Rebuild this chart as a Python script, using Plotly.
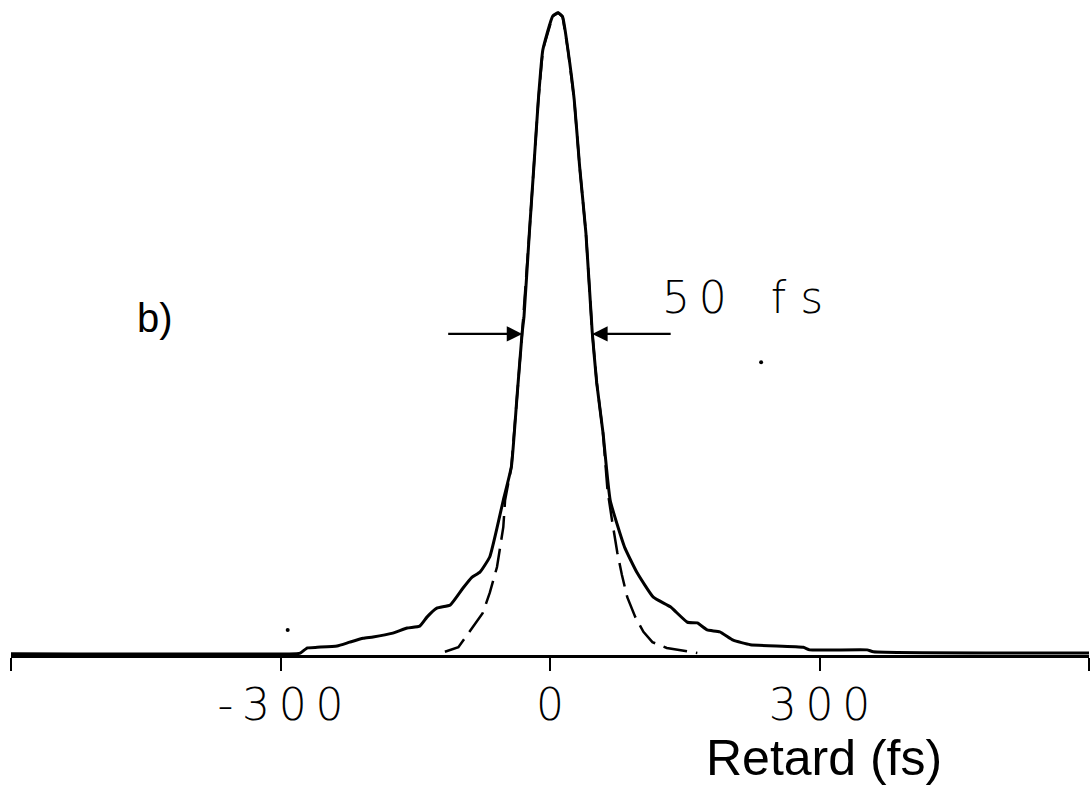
import plotly.graph_objects as go

# Measured autocorrelation trace (solid)
meas_x = [-600, -282, -278, -270, -259, -237, -223, -208, -197, -175, -159, -145, -137, -126, -111,
          -97, -87, -78, -67, -52, -43, -37, -31, -29, -23, -18, -13, -8, 3, 9, 14, 20, 27, 33, 40,
          47, 52, 59, 67, 83, 97, 115, 134, 153, 164, 175, 189, 204, 223, 282, 289, 353, 360, 600]
meas_y = [0.002, 0.002, 0.003, 0.011, 0.012, 0.014, 0.020, 0.026, 0.028, 0.034, 0.042, 0.045, 0.059,
          0.073, 0.078, 0.104, 0.121, 0.129, 0.153, 0.241, 0.293, 0.397, 0.502, 0.526, 0.657, 0.760,
          0.864, 0.942, 0.995, 1.000, 0.994, 0.942, 0.864, 0.760, 0.657, 0.503, 0.424, 0.346, 0.241,
          0.168, 0.128, 0.090, 0.075, 0.051, 0.050, 0.039, 0.036, 0.023, 0.016, 0.012, 0.008, 0.008,
          0.005, 0.003]

# Fitted pulse shape (dashed)
fit_x = [-117, -102, -75, -67, -59, -52, -50, -43, -37, -31, -23, -18, -13, -8, 3, 9, 14, 20, 27,
         33, 40, 47, 52, 59, 64, 69, 75, 80, 86, 95, 104, 114, 130, 164]
fit_y = [0.005, 0.012, 0.065, 0.097, 0.137, 0.199, 0.241, 0.293, 0.397, 0.502, 0.657, 0.760, 0.864,
         0.942, 0.995, 1.000, 0.994, 0.942, 0.864, 0.760, 0.657, 0.503, 0.424, 0.346, 0.257, 0.210,
         0.159, 0.125, 0.090, 0.059, 0.036, 0.020, 0.011, 0.003]

# Stray specks on the original print
speck_x = [-292, 235]
speck_y = [0.039, 0.456]

tick_vals = [-600, -300, 0, 300, 600]
tick_text = ["", "-\u20093\u20090\u20090", "0", "3\u20090\u20090", ""]

fig = go.Figure()
fig.add_trace(go.Scatter(x=fit_x, y=fit_y, mode="lines",
                         line=dict(color="black", width=2.5, dash="24px,9px"),
                         showlegend=False, hoverinfo="skip"))
fig.add_trace(go.Scatter(x=meas_x, y=meas_y, mode="lines", line_shape="spline",
                         line=dict(color="black", width=3, smoothing=0.4),
                         showlegend=False, hoverinfo="skip"))
fig.add_trace(go.Scatter(x=speck_x, y=speck_y, mode="markers",
                         marker=dict(color="black", size=4),
                         showlegend=False, hoverinfo="skip"))

# FWHM arrows
fig.add_annotation(x=-31, y=0.5, ax=-115, ay=0.5, xref="x", yref="y", axref="x", ayref="y",
                   text="", showarrow=True, arrowhead=2, arrowsize=1.4, arrowwidth=2.2,
                   arrowcolor="black")
fig.add_annotation(x=47, y=0.5, ax=136, ay=0.5, xref="x", yref="y", axref="x", ayref="y",
                   text="", showarrow=True, arrowhead=2, arrowsize=1.4, arrowwidth=2.2,
                   arrowcolor="black")

fig.add_annotation(x=122, y=0.556, xref="x", yref="y", xanchor="left", yanchor="middle",
                   text="5\u20090\u2003f s", showarrow=False,
                   font=dict(family="DejaVu Sans", size=44, color="black", weight=200))
fig.add_annotation(x=-462, y=0.525, xref="x", yref="y", xanchor="left", yanchor="middle",
                   text="b)", showarrow=False,
                   font=dict(family="Liberation Sans", size=40, color="black"))
fig.add_annotation(x=0.643, y=-0.158, xref="paper", yref="paper", xanchor="left", yanchor="middle",
                   text="Retard (fs)", showarrow=False,
                   font=dict(family="Liberation Sans", size=50, color="black"))

fig.update_layout(
    width=1090, height=788,
    margin=dict(l=11, r=1, t=0, b=133),
    paper_bgcolor="white", plot_bgcolor="white",
    xaxis=dict(range=[-600, 600], showgrid=False, zeroline=False,
               showline=True, linecolor="black", linewidth=3,
               ticks="outside", ticklen=13, tickwidth=2, tickcolor="black",
               ticklabelstandoff=-4,
               tickvals=tick_vals, ticktext=tick_text,
               tickfont=dict(family="DejaVu Sans", size=44, color="black", weight=200)),
    yaxis=dict(range=[0, 1.02], visible=False),
)

fig.write_html("out.html")
